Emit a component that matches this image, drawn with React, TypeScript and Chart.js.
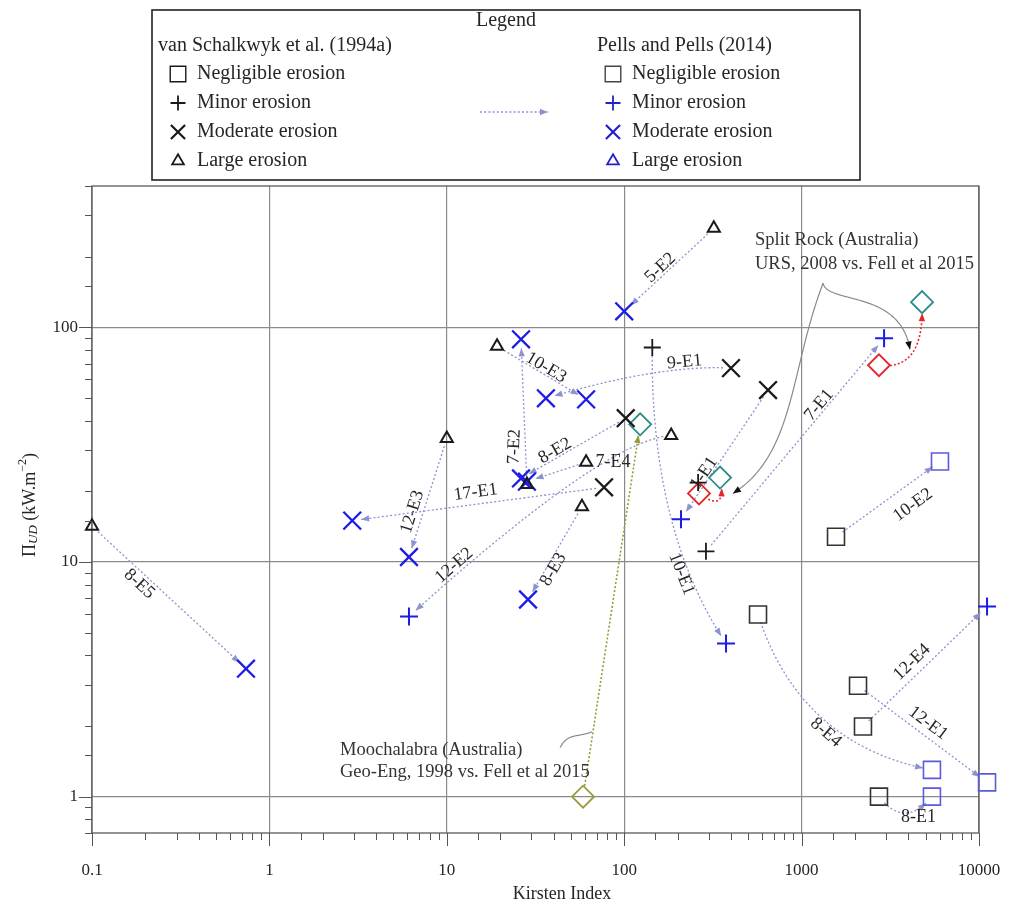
import React, { useEffect, useRef } from 'react';
import { Chart, registerables } from 'chart.js';

Chart.register(...registerables);

const SERIF = '"Liberation Serif", "Times New Roman", serif';

// ---------- values: [Kirsten index, Π_UD (kW/m²)] ----------
// van Schalkwyk et al. (1994a)
const vsNegligible = [[568, 5.97], [1563, 12.8], [2080, 2.97], [2218, 1.99], [2730, 1.0]];
const vsMinor = [[144, 82], [289, 11.1], [261, 21.8]];
const vsModerate = [[400, 67], [647, 54], [102, 41], [77, 20.8]];
const vsLarge = [[0.1, 14.2], [10, 33.6], [19.2, 83], [28.3, 21.4], [57.8, 17.2], [61, 26.6], [184, 34.6], [320, 264]];
// Pells and Pells (2014)
const ppNegligible = [[6026, 26.8], [5430, 1.3], [5430, 1.0], [11100, 1.15]];
const ppMinor = [[2917, 89.8], [209, 15.2], [6.12, 5.86], [375, 4.49], [11100, 6.46]];
const ppModerate = [[0.738, 3.51], [2.93, 15.0], [6.12, 10.5], [26.2, 88.9], [36.2, 49.8], [61, 49.3], [26.2, 22.7], [28.3, 22.0], [100, 117], [28.7, 6.92]];
// Australian case studies
const fell2015 = [[123, 38.6], [347, 22.9], [4775, 128]];
const urs2008 = [[264, 19.6], [2730, 68.9]];
const geoEng1998 = [[58.6, 1.0]];

// arrows: van Schalkwyk -> Pells
const arrowLabels = ['8-E5', '12-E3', '17-E1', '12-E2', '7-E2', '8-E2', '10-E3', '7-E4', '8-E3', '5-E2', '9-E1', '10-E1', '1-E1', '7-E1', '10-E2', '12-E4', '12-E1', '8-E4', '8-E1'];
const arrowFrom: [string, number][] = [['vsLarge', 0], ['vsLarge', 1], ['vsModerate', 3], ['vsLarge', 6], ['vsLarge', 3], ['vsModerate', 2], ['vsLarge', 2], ['vsLarge', 5], ['vsLarge', 4], ['vsLarge', 7], ['vsModerate', 0], ['vsMinor', 0], ['vsModerate', 1], ['vsMinor', 1], ['vsNegligible', 1], ['vsNegligible', 3], ['vsNegligible', 2], ['vsNegligible', 0], ['vsNegligible', 4]];
const arrowTo: [string, number][] = [['ppModerate', 0], ['ppModerate', 2], ['ppModerate', 1], ['ppMinor', 2], ['ppModerate', 3], ['ppModerate', 6], ['ppModerate', 5], ['ppModerate', 7], ['ppModerate', 9], ['ppModerate', 8], ['ppModerate', 4], ['ppMinor', 3], ['ppMinor', 1], ['ppMinor', 0], ['ppNegligible', 0], ['ppMinor', 4], ['ppNegligible', 3], ['ppNegligible', 1], ['ppNegligible', 2]];
// case study arrows
const caseFrom: [string, number][] = [['urs2008', 0], ['urs2008', 1], ['geoEng1998', 0]];
const caseTo: [string, number][] = [['fell2015', 1], ['fell2015', 2], ['fell2015', 0]];

// annotations (data coordinates)
const splitRockText = ['Split Rock (Australia)', 'URS, 2008 vs. Fell et al 2015'];
const splitRockAnchor = [[546, 235], [546, 186]];
const splitRockPointerA = [[1321, 154], [861, 66.2], [918, 28.7], [410, 19.6]];
const splitRockPointerB = [[1321, 154], [1409, 125], [3589, 145], [4083, 80.5]];
const moochText = ['Moochalabra (Australia)', 'Geo-Eng, 1998 vs. Fell et al 2015'];
const moochAnchor = [[2.5, 1.586], [2.5, 1.278]];
const moochPointer = [[43.5, 1.618], [48.2, 1.875], [55, 1.785], [65.8, 1.89]];

const xTickLabels = ['0.1', '1', '10', '100', '1000', '10000'];
const yTickLabels = ['1', '10', '100'];

const sets: Record<string, number[][]> = { vsNegligible, vsMinor, vsModerate, vsLarge, ppNegligible, ppMinor, ppModerate, fell2015, urs2008, geoEng1998 };

// ---------- styling / layout (not data) ----------
type Shape = { a?: number; b?: number; t: number; dx: number; dy: number; rot?: number };
const arrowShape: Shape[] = [
  { t: 0.3, dx: 1, dy: 15 },
  { t: 0.62, dx: -11, dy: 0 },
  { t: 0.51, dx: 0, dy: -12 },
  { a: 0.178, b: 0.107, t: 0.88, dx: 0, dy: -11 },
  { t: 0.26, dx: -11, dy: 0, rot: -88 },
  { t: 0.676, dx: 0, dy: -8 },
  { t: 0.517, dx: 3, dy: -6 },
  { t: 0, dx: 27, dy: 0, rot: 0 },
  { t: 0.677, dx: 8, dy: 0 },
  { t: 0.596, dx: 0, dy: -10 },
  { a: 0.37, b: 0.082, t: 0.3, dx: 0, dy: -7 },
  { a: 0.577, b: 0.151, t: 0.7, dx: -6, dy: 5 },
  { t: 0.643, dx: -8, dy: 0 },
  { t: 0.635, dx: 0, dy: -11 },
  { t: 0.74, dx: 0, dy: 24 },
  { t: 0.395, dx: 0, dy: -17 },
  { t: 0.543, dx: 0, dy: -15 },
  { a: 0.506, b: 0.297, t: 0.52, dx: 0, dy: 11 },
  { a: 0.49, b: 0.62, t: 0.75, dx: 0, dy: 8, rot: 0 },
];
const caseShape = [{ a: 0.39, b: 1.3 }, { a: 0.275, b: 0.54 }, { a: 0.5, b: 0 }];
const caseColor = ['#e3262a', '#e3262a', '#9a9a3a'];

const C_BLACK = '#1a1a1a';
const C_BLUE = '#1c1ce6';
const C_BLUESQ = '#5a5ade';
const C_ARROW = '#8c93cf';
const C_TEXT = '#262626';

const isDecade = (v: number) => Math.abs(Math.log10(v) - Math.round(Math.log10(v))) < 1e-6;

function drawMarker(ctx: CanvasRenderingContext2D, style: string, x: number, y: number, r: number, color: string, lw: number) {
  ctx.save();
  ctx.strokeStyle = color;
  ctx.lineWidth = lw;
  ctx.setLineDash([]);
  ctx.beginPath();
  if (style === 'rect') {
    const s = r * Math.SQRT1_2;
    ctx.rect(x - s, y - s, 2 * s, 2 * s);
  } else if (style === 'cross') {
    ctx.moveTo(x, y - r); ctx.lineTo(x, y + r); ctx.moveTo(x - r, y); ctx.lineTo(x + r, y);
  } else if (style === 'crossRot') {
    const d = r * Math.SQRT1_2;
    ctx.moveTo(x - d, y - d); ctx.lineTo(x + d, y + d); ctx.moveTo(x - d, y + d); ctx.lineTo(x + d, y - d);
  } else if (style === 'triangle') {
    ctx.moveTo(x, y - r); ctx.lineTo(x + 0.866 * r, y + 0.5 * r); ctx.lineTo(x - 0.866 * r, y + 0.5 * r); ctx.closePath();
  }
  ctx.stroke();
  ctx.restore();
}

function arrowHead(ctx: CanvasRenderingContext2D, tip: number[], from: number[], color: string, len = 8, w = 3.2) {
  const dx = tip[0] - from[0], dy = tip[1] - from[1];
  const L = Math.hypot(dx, dy) || 1;
  const ux = dx / L, uy = dy / L;
  const bx = tip[0] - ux * len, by = tip[1] - uy * len;
  ctx.save();
  ctx.setLineDash([]);
  ctx.fillStyle = color;
  ctx.beginPath();
  ctx.moveTo(tip[0], tip[1]);
  ctx.lineTo(bx - uy * w, by + ux * w);
  ctx.lineTo(bx + uy * w, by - ux * w);
  ctx.closePath();
  ctx.fill();
  ctx.restore();
}

function strokeTrimmed(ctx: CanvasRenderingContext2D, pts: number[][], g0: number, g1: number, color: string, lw: number, dash: number[], head: boolean, headColor?: string) {
  const cum = [0];
  for (let i = 1; i < pts.length; i++) cum.push(cum[i - 1] + Math.hypot(pts[i][0] - pts[i - 1][0], pts[i][1] - pts[i - 1][1]));
  const total = cum[cum.length - 1];
  const s = g0, e = total - g1;
  const at = (d: number) => {
    for (let i = 1; i < pts.length; i++) {
      if (cum[i] >= d) {
        const f = (d - cum[i - 1]) / ((cum[i] - cum[i - 1]) || 1);
        return [pts[i - 1][0] + f * (pts[i][0] - pts[i - 1][0]), pts[i - 1][1] + f * (pts[i][1] - pts[i - 1][1])];
      }
    }
    return pts[pts.length - 1];
  };
  const out = [at(s)];
  for (let i = 0; i < pts.length; i++) if (cum[i] > s && cum[i] < e) out.push(pts[i]);
  const end = at(e);
  out.push(end);
  ctx.save();
  ctx.strokeStyle = color;
  ctx.lineWidth = lw;
  ctx.setLineDash(dash);
  ctx.beginPath();
  ctx.moveTo(out[0][0], out[0][1]);
  for (let i = 1; i < out.length; i++) ctx.lineTo(out[i][0], out[i][1]);
  ctx.stroke();
  ctx.restore();
  if (head) arrowHead(ctx, end, at(Math.max(s, e - 5)), headColor || color);
}

function quad(P0: number[], P2: number[], a: number, b: number, n = 80) {
  const dx = P2[0] - P0[0], dy = P2[1] - P0[1];
  const L = Math.hypot(dx, dy) || 1;
  const nx = -dy / L, ny = dx / L;
  const C = [P0[0] + a * dx + b * L * nx, P0[1] + a * dy + b * L * ny];
  const pts: number[][] = [];
  for (let i = 0; i <= n; i++) {
    const t = i / n, m = 1 - t;
    pts.push([m * m * P0[0] + 2 * m * t * C[0] + t * t * P2[0], m * m * P0[1] + 2 * m * t * C[1] + t * t * P2[1]]);
  }
  return { pts, C };
}

function cubic(P: number[][], n = 80) {
  const pts: number[][] = [];
  for (let i = 0; i <= n; i++) {
    const t = i / n, m = 1 - t;
    const w = [m * m * m, 3 * m * m * t, 3 * m * t * t, t * t * t];
    pts.push([0, 1].map((k) => w[0] * P[0][k] + w[1] * P[1][k] + w[2] * P[2][k] + w[3] * P[3][k]));
  }
  return pts;
}

const overlayPlugin = {
  id: 'overlay',
  beforeDatasetsDraw(chart: any) {
    const ctx: CanvasRenderingContext2D = chart.ctx;
    const xs = chart.scales.x, ys = chart.scales.y;
    const P = (v: number[]) => [xs.getPixelForValue(v[0]), ys.getPixelForValue(v[1])];
    const ref = (r: [string, number]) => P(sets[r[0]][r[1]]);
    const ca = chart.chartArea;

    // frame
    ctx.save();
    ctx.strokeStyle = '#5a5a5a';
    ctx.lineWidth = 1.3;
    ctx.strokeRect(ca.left, ca.top, ca.right - ca.left, ca.bottom - ca.top);
    ctx.restore();

    // case-study pointer curves
    const pointer = (pv: number[][]) => {
      const pts = cubic(pv.map(P));
      strokeTrimmed(ctx, pts, 0, 0, '#8a8a8a', 1.2, [], true, '#111');
    };
    pointer(splitRockPointerA);
    pointer(splitRockPointerB);
    strokeTrimmed(ctx, cubic(moochPointer.map(P)), 0, 0, '#8a8a8a', 1.2, [], false);

    // van Schalkwyk -> Pells arrows
    arrowLabels.forEach((lab, i) => {
      const P0 = ref(arrowFrom[i]), P2 = ref(arrowTo[i]);
      const sh = arrowShape[i];
      const { pts, C } = quad(P0, P2, sh.a ?? 0.5, sh.b ?? 0);
      strokeTrimmed(ctx, pts, 8, 9, C_ARROW, 1.3, [2, 2.2], true);
      const t = sh.t;
      let x: number, y: number, ang: number;
      if (t >= 0 && t <= 1) {
        const m = 1 - t;
        x = m * m * P0[0] + 2 * m * t * C[0] + t * t * P2[0];
        y = m * m * P0[1] + 2 * m * t * C[1] + t * t * P2[1];
        const dx = 2 * m * (C[0] - P0[0]) + 2 * t * (P2[0] - C[0]);
        const dy = 2 * m * (C[1] - P0[1]) + 2 * t * (P2[1] - C[1]);
        ang = (Math.atan2(dy, dx) * 180) / Math.PI;
      } else {
        x = P0[0] + t * (P2[0] - P0[0]);
        y = P0[1] + t * (P2[1] - P0[1]);
        ang = (Math.atan2(P2[1] - P0[1], P2[0] - P0[0]) * 180) / Math.PI;
      }
      while (ang > 90) ang -= 180;
      while (ang < -90) ang += 180;
      if (sh.rot !== undefined) ang = sh.rot;
      ctx.save();
      ctx.translate(x + sh.dx, y + sh.dy);
      ctx.rotate((ang * Math.PI) / 180);
      ctx.font = `18px ${SERIF}`;
      ctx.fillStyle = C_TEXT;
      ctx.textAlign = 'center';
      ctx.textBaseline = 'middle';
      ctx.fillText(lab, 0, 0);
      ctx.restore();
    });

    // case-study arrows
    caseFrom.forEach((f, i) => {
      const P0 = ref(f), P2 = ref(caseTo[i]);
      const { pts } = quad(P0, P2, caseShape[i].a, caseShape[i].b);
      strokeTrimmed(ctx, pts, 11, 11, caseColor[i], 1.6, [2, 2], true);
    });

    // annotation text
    ctx.save();
    ctx.font = `18.5px ${SERIF}`;
    ctx.fillStyle = '#333';
    ctx.textAlign = 'left';
    ctx.textBaseline = 'middle';
    splitRockText.forEach((s, i) => { const p = P(splitRockAnchor[i]); ctx.fillText(s, p[0], p[1]); });
    moochText.forEach((s, i) => { const p = P(moochAnchor[i]); ctx.fillText(s, p[0], p[1]); });
    ctx.restore();
  },
  afterDraw(chart: any) {
    const ctx: CanvasRenderingContext2D = chart.ctx;
    const xs = chart.scales.x, ys = chart.scales.y;
    const ca = chart.chartArea;
    // tick marks (outside)
    ctx.save();
    ctx.strokeStyle = '#555';
    ctx.lineWidth = 1;
    ctx.beginPath();
    xs.ticks.forEach((tk: any) => {
      const px = Math.round(xs.getPixelForValue(tk.value)) + 0.5;
      const len = isDecade(tk.value) ? 13 : 7;
      ctx.moveTo(px, ca.bottom); ctx.lineTo(px, ca.bottom + len);
    });
    ys.ticks.forEach((tk: any) => {
      const py = Math.round(ys.getPixelForValue(tk.value)) + 0.5;
      const len = isDecade(tk.value) ? 13 : 7;
      ctx.moveTo(ca.left, py); ctx.lineTo(ca.left - len, py);
    });
    ctx.stroke();
    ctx.restore();

    // axis titles
    ctx.save();
    ctx.fillStyle = C_TEXT;
    ctx.font = `18px ${SERIF}`;
    ctx.textAlign = 'center';
    ctx.textBaseline = 'middle';
    ctx.fillText('Kirsten Index', 562, 894);
    ctx.translate(30, 505);
    ctx.rotate(-Math.PI / 2);
    const segs: [string, string, number][] = [
      ['Π', `18px ${SERIF}`, 0],
      ['UD', `italic 13px ${SERIF}`, 4],
      [' (kW.m', `18px ${SERIF}`, 0],
      ['−2', `12px ${SERIF}`, -7],
      [')', `18px ${SERIF}`, 0],
    ];
    let tot = 0;
    segs.forEach((s) => { ctx.font = s[1]; tot += ctx.measureText(s[0]).width; });
    let cx = -tot / 2;
    ctx.textAlign = 'left';
    segs.forEach((s) => { ctx.font = s[1]; ctx.fillText(s[0], cx, s[2]); cx += ctx.measureText(s[0]).width; });
    ctx.restore();

    // legend
    ctx.save();
    ctx.fillStyle = '#fff';
    ctx.fillRect(152, 10, 708, 170);
    ctx.strokeStyle = '#222';
    ctx.lineWidth = 1.6;
    ctx.strokeRect(152, 10, 708, 170);
    ctx.fillStyle = C_TEXT;
    ctx.textBaseline = 'middle';
    ctx.font = `20px ${SERIF}`;
    ctx.textAlign = 'center';
    ctx.fillText('Legend', 506, 21);
    ctx.textAlign = 'left';
    ctx.fillText('van Schalkwyk et al. (1994a)', 158, 46);
    ctx.fillText('Pells and Pells (2014)', 597, 46);
    const names = ['Negligible erosion', 'Minor erosion', 'Moderate erosion', 'Large erosion'];
    const styles = ['rect', 'cross', 'crossRot', 'triangle'];
    const rads = [11, 7.5, 10, 6.8];
    const lws = [1.4, 1.8, 2.2, 1.8];
    names.forEach((n, i) => {
      const y = 74 + i * 29;
      drawMarker(ctx, styles[i], 178, y, rads[i], C_BLACK, lws[i]);
      drawMarker(ctx, styles[i], 613, y, rads[i], i === 0 ? '#444' : '#2222cc', lws[i]);
      ctx.fillStyle = C_TEXT;
      ctx.fillText(n, 197, y);
      ctx.fillText(n, 632, y);
    });
    strokeTrimmed(ctx, [[480, 112], [548, 112]], 0, 0, C_ARROW, 1.3, [2, 2.2], true);
    ctx.restore();
  },
};

function markerSet(data: number[][], style: string, r: number, color: string, lw: number) {
  return {
    data: data.map(([x, y]) => ({ x, y })),
    pointStyle: style,
    pointRadius: r,
    pointBorderColor: color,
    pointBackgroundColor: 'rgba(0,0,0,0)',
    pointBorderWidth: lw,
    showLine: false,
    clip: false as any,
  };
}

const noPad = (s: any) => { s.paddingLeft = 0; s.paddingRight = 0; s.paddingTop = 0; s.paddingBottom = 0; };

export default function App() {
  const ref = useRef<HTMLCanvasElement>(null);
  useEffect(() => {
    if (!ref.current) return;
    const chart = new Chart(ref.current, {
      type: 'scatter',
      data: {
        datasets: [
          markerSet(vsMinor, 'cross', 8.5, C_BLACK, 1.8),
          markerSet(vsModerate, 'crossRot', 12.5, C_BLACK, 2.3),
          markerSet(vsLarge, 'triangle', 7, C_BLACK, 2),
          markerSet(vsNegligible, 'rect', 12, '#333', 1.6),
          markerSet(ppMinor, 'cross', 9, C_BLUE, 2),
          markerSet(ppModerate, 'crossRot', 12.5, C_BLUE, 2.3),
          markerSet(ppNegligible, 'rect', 12, C_BLUESQ, 1.6),
          markerSet(fell2015, 'rectRot', 11, '#2b8c88', 1.8),
          markerSet(urs2008, 'rectRot', 11, '#e3262a', 1.8),
          markerSet(geoEng1998, 'rectRot', 11, '#9a9a3a', 1.8),
        ] as any,
      },
      options: {
        animation: false,
        responsive: false,
        events: [],
        layout: { padding: { left: 0, right: 30, top: 186, bottom: 0 } },
        plugins: { legend: { display: false }, tooltip: { enabled: false } },
        scales: {
          x: {
            type: 'logarithmic',
            min: 0.1,
            max: 10000,
            border: { display: false },
            grid: {
              drawTicks: false,
              lineWidth: 1.2,
              color: (c: any) => (c.tick && isDecade(c.tick.value) ? '#8a8a8a' : 'rgba(0,0,0,0)'),
            },
            ticks: {
              autoSkip: false,
              maxRotation: 0,
              padding: 27,
              color: C_TEXT,
              font: { family: SERIF, size: 17 },
              callback: (v: any) => {
                const n = Number(v);
                if (!isDecade(n)) return '';
                const k = Math.round(Math.log10(n)) + 1;
                return xTickLabels[k] ?? '';
              },
            },
            afterFit: (s: any) => { s.height = 75; noPad(s); },
          },
          y: {
            type: 'logarithmic',
            min: 0.7,
            max: 400,
            border: { display: false },
            grid: {
              drawTicks: false,
              lineWidth: 1.2,
              color: (c: any) => (c.tick && isDecade(c.tick.value) ? '#8a8a8a' : 'rgba(0,0,0,0)'),
            },
            ticks: {
              autoSkip: false,
              padding: 14,
              color: C_TEXT,
              font: { family: SERIF, size: 17 },
              callback: (v: any) => {
                const n = Number(v);
                if (!isDecade(n)) return '';
                const k = Math.round(Math.log10(n));
                return yTickLabels[k] ?? '';
              },
            },
            afterFit: (s: any) => { s.width = 92; noPad(s); },
          },
        },
      } as any,
      plugins: [overlayPlugin],
    });
    return () => chart.destroy();
  }, []);
  return (
    <div style={{ position: 'absolute', left: 0, top: 0, width: 1009, height: 908, background: '#fff' }}>
      <canvas ref={ref} width={1009} height={908} style={{ width: 1009, height: 908, display: 'block' }} />
    </div>
  );
}
